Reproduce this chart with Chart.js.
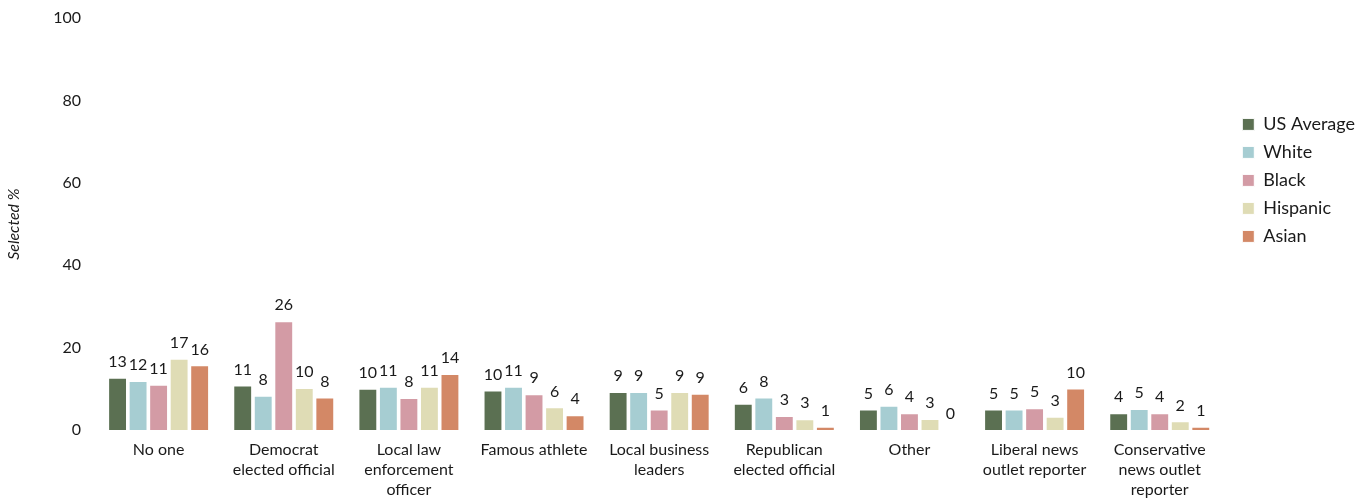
<!DOCTYPE html>
<html>
<head>
<meta charset="utf-8">
<script src="https://cdn.jsdelivr.net/npm/chart.js@4.4.0/dist/chart.umd.min.js"></script>
<style>
  html, body { margin: 0; padding: 0; background: #fff; }
  #wrap { width: 1368px; height: 500px; }
</style>
</head>
<body>
<div id="wrap"><canvas id="chart"></canvas></div>
<script>
const categories = [
  "No one",
  ["Democrat", "elected official"],
  ["Local law", "enforcement", "officer"],
  "Famous athlete",
  ["Local business", "leaders"],
  ["Republican", "elected official"],
  "Other",
  ["Liberal news", "outlet reporter"],
  ["Conservative", "news outlet", "reporter"],
];

const usAverage = [12.7, 10.8, 10.0, 9.6, 9.2, 6.4, 4.95, 4.95, 4.05];
const white     = [11.9, 8.3, 10.5, 10.5, 9.2, 7.9, 5.9, 4.95, 5.1];
const black     = [11.0, 26.4, 7.8, 8.7, 4.95, 3.4, 4.05, 5.3, 4.05];
const hispanic  = [17.3, 10.2, 10.5, 5.5, 9.2, 2.6, 2.7, 3.2, 2.1];
const asian     = [15.7, 7.9, 13.6, 3.6, 8.8, 0.8, 0, 10.1, 0.8];

const yTicks = [0, 20, 40, 60, 80, 100];

const barLabels = {
  id: "barLabels",
  afterDatasetsDraw(chart) {
    const ctx = chart.ctx;
    ctx.save();
    ctx.font = "16px Lato";
    ctx.fillStyle = "#1a1a1a";
    ctx.textAlign = "center";
    ctx.textBaseline = "bottom";
    chart.data.datasets.forEach(function(ds, i) {
      chart.getDatasetMeta(i).data.forEach(function(bar, j) {
        ctx.fillText(String(Math.round(ds.data[j])), bar.x, bar.y - 8);
      });
    });
    ctx.restore();
  }
};

Chart.defaults.font.family = "Lato";
Chart.defaults.color = "#1a1a1a";

new Chart(document.getElementById("chart"), {
  type: "bar",
  data: {
    labels: categories,
    datasets: [
      { label: "US Average", data: usAverage, backgroundColor: "#5b7052" },
      { label: "White", data: white, backgroundColor: "#a6cdd2" },
      { label: "Black", data: black, backgroundColor: "#d39ba5" },
      { label: "Hispanic", data: hispanic, backgroundColor: "#dfdcb5" },
      { label: "Asian", data: asian, backgroundColor: "#d38866" },
    ],
  },
  options: {
    responsive: true,
    maintainAspectRatio: false,
    animation: false,
    layout: { padding: { top: -3, right: 3, left: 0, bottom: -10 } },
    datasets: {
      bar: {
        categoryPercentage: 0.82,
        barPercentage: 0.92,
        borderColor: "#ffffff",
        borderWidth: 1,
      }
    },
    plugins: {
      legend: {
        position: "right",
        align: "start",
        title: { display: true, text: "", padding: { top: 94, bottom: 0 } },
        labels: {
          boxWidth: 12,
          boxHeight: 12,
          padding: 10,
          font: { size: 18 },
        },
      },
      tooltip: { enabled: false },
    },
    scales: {
      x: {
        grid: { display: false, drawTicks: false },
        border: { display: false },
        ticks: {
          padding: 10,
          maxRotation: 0,
          autoSkip: false,
          font: { size: 16, lineHeight: 1.25 },
        },
      },
      y: {
        min: 0,
        max: 100,
        afterBuildTicks: function(axis) {
          axis.ticks = yTicks.map(function(v) { return { value: v }; });
        },
        grid: { display: false, drawTicks: false },
        border: { display: false },
        // small lineHeight keeps the top "100" label from pushing the plot down
        ticks: { padding: 15, font: { size: 16, lineHeight: 0.4 } },
        title: {
          display: true,
          text: "Selected %",
          font: { size: 16, style: "italic" },
          padding: { bottom: 15 },
        },
      },
      // empty axis on the right, only to leave a gap before the legend
      gap: {
        position: "right",
        grid: { display: false, drawTicks: false },
        border: { display: false },
        ticks: { display: false },
        afterFit: function(scale) { scale.width = 10; },
      },
    },
  },
  plugins: [barLabels],
});
</script>
</body>
</html>
